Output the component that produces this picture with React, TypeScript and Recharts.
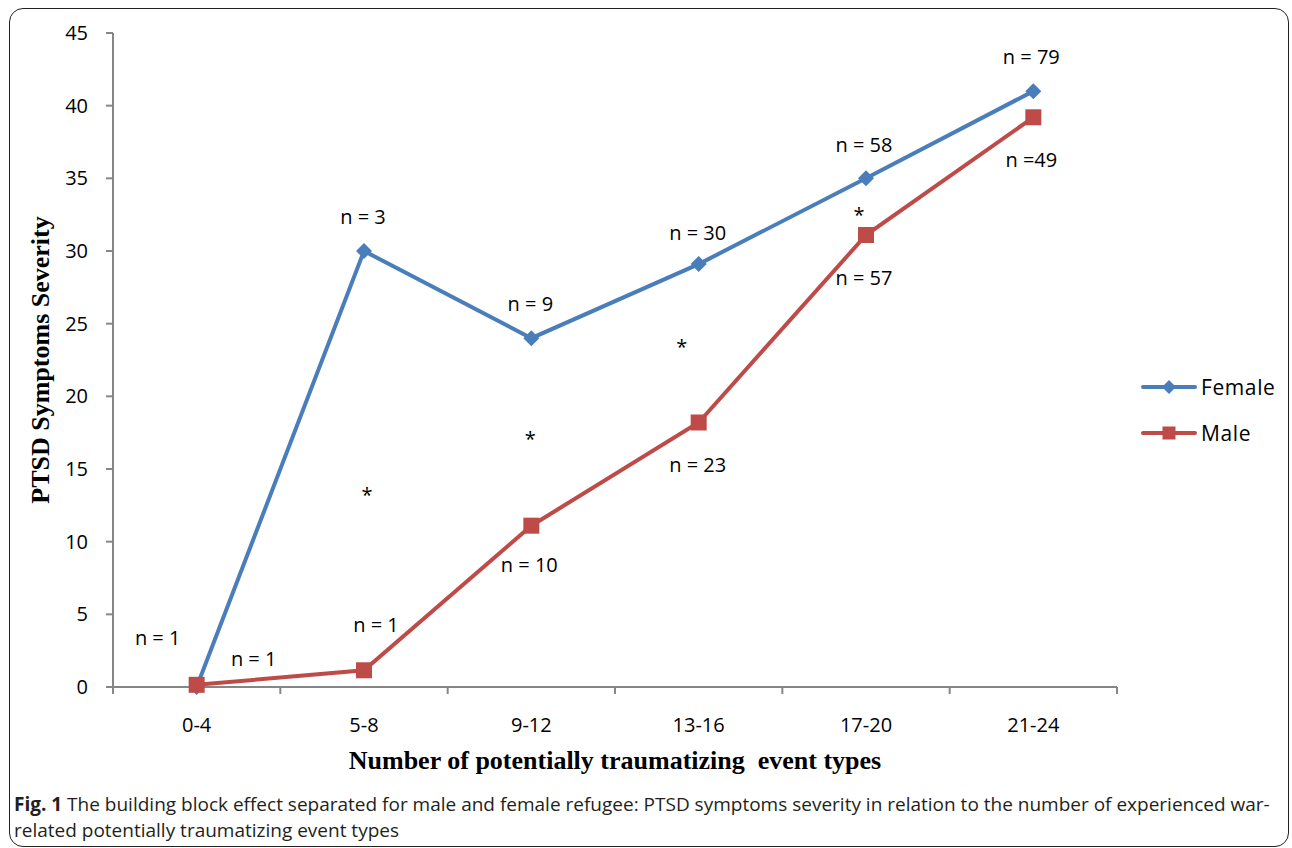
import React from "react";
import {
  LineChart,
  Line,
  XAxis,
  YAxis,
  Legend,
  ReferenceDot,
  Label,
} from "recharts";

const categories = ["0-4", "5-8", "9-12", "13-16", "17-20", "21-24"];
const female = [0, 30, 24, 29.1, 35, 41];
const male = [0.15, 1.15, 11.1, 18.2, 31.1, 39.2];
const yTicks = [0, 5, 10, 15, 20, 25, 30, 35, 40, 45];

// group sizes and significance marks, placed in data units
const noteText = ["n = 1", "n = 1", "n = 3", "n = 1", "n = 9", "n = 10", "n = 30", "n = 23", "n = 58", "n = 57", "n = 79", "n =49", "*", "*", "*", "*"];
const noteCat = ["0-4", "0-4", "5-8", "5-8", "9-12", "9-12", "13-16", "13-16", "17-20", "17-20", "21-24", "21-24", "5-8", "9-12", "13-16", "17-20"];
const noteY = [3.44, 1.93, 32.35, 4.27, 26.36, 8.4, 31.3, 15.3, 37.3, 28.2, 43.36, 36.27, 13.76, 17.55, 23.88, 32.97];
// horizontal nudges (px) for the notes
const noteDx = [-39, 57, -1, 12, -1, -2, -1, -1, -2, -2, -2, -2, 3, -1, -17, -7];

const BLUE = "#4a7ebb";
const RED = "#be4b48";
const AXIS = "#868686";
const SANS = "'Open Sans', 'Noto Sans', sans-serif";
const SERIF = "'Liberation Serif', 'Times New Roman', serif";

const data = categories.map((c, i) => ({ cat: c, female: female[i], male: male[i] }));

const Diamond = ({ cx, cy, fill, size = 8 }: any) => (
  <polygon
    points={`${cx},${cy - size} ${cx + size},${cy} ${cx},${cy + size} ${cx - size},${cy}`}
    fill={fill}
  />
);

const Square = ({ cx, cy, fill, size = 8 }: any) => (
  <rect x={cx - size} y={cy - size} width={size * 2} height={size * 2} fill={fill} />
);

const XTick = (props: any) => {
  const { x, y, payload, index, visibleTicksCount, width } = props;
  const half = width / visibleTicksCount / 2;
  return (
    <g>
      <line x1={x - half} x2={x - half} y1={y} y2={y + 7} stroke={AXIS} strokeWidth={2} />
      {index === visibleTicksCount - 1 && (
        <line x1={x + half} x2={x + half} y1={y} y2={y + 7} stroke={AXIS} strokeWidth={2} />
      )}
      <text x={x} y={y + 45} textAnchor="middle" fontSize={20} fontFamily={SANS} fill="#000">
        {payload.value}
      </text>
    </g>
  );
};

const LegendContent = () => (
  <div style={{ fontFamily: SANS, fontSize: 21, color: "#000" }}>
    {[
      { name: "Female", color: BLUE, kind: "diamond" },
      { name: "Male", color: RED, kind: "square" },
    ].map((it) => (
      <div key={it.name} style={{ display: "flex", alignItems: "center", height: 46 }}>
        <svg width={56} height={20} style={{ marginRight: 4 }}>
          <line x1={2} x2={54} y1={10} y2={10} stroke={it.color} strokeWidth={4} strokeLinecap="round" />
          {it.kind === "diamond" ? (
            <Diamond cx={28} cy={10} size={7} fill={it.color} />
          ) : (
            <Square cx={28} cy={10} size={6.5} fill={it.color} />
          )}
        </svg>
        <span style={{ letterSpacing: 0.6 }}>{it.name}</span>
      </div>
    ))}
  </div>
);

export default function App() {
  return (
    <div style={{ position: "absolute", left: 0, top: 0, width: 1292, height: 848, background: "#fff" }}>
      <div
        style={{
          position: "absolute",
          left: 9,
          top: 8,
          width: 1278,
          height: 837,
          border: "1.5px solid #222",
          borderRadius: 14,
        }}
      />
      <div style={{ position: "absolute", left: 0, top: 0 }}>
        <LineChart
          width={1292}
          height={780}
          data={data}
          margin={{ top: 33, right: 25, left: 0, bottom: 0 }}
        >
          <XAxis
            dataKey="cat"
            scale="band"
            height={93}
            axisLine={{ stroke: AXIS, strokeWidth: 2 }}
            tickLine={false}
            tickSize={0}
            tickMargin={0}
            tick={<XTick />}
            interval={0}
          >
            <Label
              content={({ viewBox }: any) => (
                <text
                  x={viewBox.x + viewBox.width / 2}
                  y={viewBox.y + 82}
                  textAnchor="middle"
                  fontFamily={SERIF}
                  fontWeight="bold"
                  fontSize={26}
                  fill="#000"
                  style={{ whiteSpace: "pre" }}
                >
                  Number of potentially traumatizing  event types
                </text>
              )}
            />
          </XAxis>
          <YAxis
            width={113}
            domain={[0, 45]}
            ticks={yTicks}
            interval={0}
            axisLine={{ stroke: AXIS, strokeWidth: 2 }}
            tickLine={{ stroke: AXIS, strokeWidth: 2 }}
            tickSize={7}
            tickMargin={18}
            tick={{ fill: "#000", fontSize: 20, fontFamily: SANS }}
          >
            <Label
              content={({ viewBox }: any) => {
                const cx = viewBox.x + 40;
                const cy = viewBox.y + viewBox.height / 2;
                return (
                  <text
                    x={cx}
                    y={cy}
                    transform={`rotate(-90 ${cx} ${cy})`}
                    textAnchor="middle"
                    dominantBaseline="central"
                    fontFamily={SERIF}
                    fontWeight="bold"
                    fontSize={26}
                    fill="#000"
                  >
                    PTSD Symptoms Severity
                  </text>
                );
              }}
            />
          </YAxis>
          <Legend
            layout="vertical"
            align="right"
            verticalAlign="middle"
            wrapperStyle={{ left: 1141, top: 364, width: 150 }}
            content={<LegendContent />}
          />
          <Line
            type="linear"
            dataKey="female"
            name="Female"
            stroke={BLUE}
            strokeWidth={4}
            dot={(p: any) => <Diamond key={p.index} cx={p.cx} cy={p.cy} size={8} fill={BLUE} />}
            activeDot={false}
            isAnimationActive={false}
          />
          <Line
            type="linear"
            dataKey="male"
            name="Male"
            stroke={RED}
            strokeWidth={4}
            dot={(p: any) => <Square key={p.index} cx={p.cx} cy={p.cy} size={8} fill={RED} />}
            activeDot={false}
            isAnimationActive={false}
          />
          {noteText.map((t, i) => (
            <ReferenceDot
              key={i}
              x={noteCat[i]}
              y={noteY[i]}
              r={0}
              ifOverflow="visible"
              shape={(p: any) => (
                <text
                  x={p.cx + noteDx[i]}
                  y={p.cy + (t === "*" ? 7 : 0)}
                  textAnchor="middle"
                  dominantBaseline="central"
                  fontFamily={SANS}
                  fontSize={20}
                  fill="#000"
                >
                  {t}
                </text>
              )}
            />
          ))}
        </LineChart>
      </div>
      <div
        style={{
          position: "absolute",
          left: 14,
          top: 791,
          width: 1272,
          fontFamily: SANS,
          fontSize: 19,
          lineHeight: "26px",
          color: "#231f20",
          whiteSpace: "nowrap",
          letterSpacing: 0,
        }}
      >
        <b>Fig. 1</b> The building block effect separated for male and female refugee: PTSD symptoms severity in relation to the number of experienced war-
        <br />
        related potentially traumatizing event types
      </div>
    </div>
  );
}
